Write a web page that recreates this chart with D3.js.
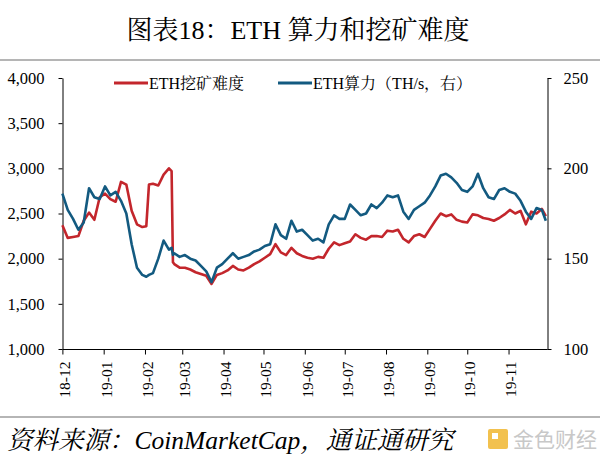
<!DOCTYPE html>
<html>
<head>
<meta charset="UTF-8">
<title>ETH 算力和挖矿难度</title>
<style>
  body{ margin:0; background:#fff; }
  svg{ display:block; }
  .axis path, .axis line{ stroke:#000; stroke-width:1; }
</style>
</head>
<body>
<script src="https://cdn.jsdelivr.net/npm/d3@7/dist/d3.min.js"></script>
<script>
// 日期（约每4天一个点）
var dates = [
  "2018-12-01","2018-12-05","2018-12-09","2018-12-13","2018-12-17","2018-12-21","2018-12-25","2018-12-29",
  "2019-01-02","2019-01-06","2019-01-10","2019-01-14","2019-01-18","2019-01-22","2019-01-26","2019-01-30",
  "2019-02-02","2019-02-04","2019-02-07","2019-02-11","2019-02-15","2019-02-19","2019-02-21","2019-02-22",
  "2019-02-23","2019-02-27","2019-03-03","2019-03-07","2019-03-11","2019-03-15","2019-03-19","2019-03-23",
  "2019-03-27","2019-03-31","2019-04-04","2019-04-08","2019-04-12","2019-04-16","2019-04-20","2019-04-24",
  "2019-04-28","2019-05-02","2019-05-06","2019-05-10","2019-05-14","2019-05-18","2019-05-22","2019-05-26",
  "2019-05-30","2019-06-03","2019-06-07","2019-06-11","2019-06-15","2019-06-19","2019-06-23","2019-06-27",
  "2019-07-01","2019-07-05","2019-07-09","2019-07-13","2019-07-17","2019-07-21","2019-07-25","2019-07-29",
  "2019-08-02","2019-08-06","2019-08-10","2019-08-14","2019-08-18","2019-08-22","2019-08-26","2019-08-30",
  "2019-09-03","2019-09-07","2019-09-11","2019-09-15","2019-09-19","2019-09-23","2019-09-27","2019-10-01",
  "2019-10-05","2019-10-09","2019-10-13","2019-10-17","2019-10-21","2019-10-25","2019-10-29","2019-11-02",
  "2019-11-06","2019-11-10","2019-11-14","2019-11-18","2019-11-22","2019-11-26","2019-11-29"
];

// ETH挖矿难度（左轴）
var difficulty = [
  2370,2230,2240,2250,2420,2510,2430,2680,
  2720,2660,2630,2850,2820,2530,2380,2350,
  2360,2820,2830,2810,2930,3000,2970,1960,
  1940,1900,1900,1880,1850,1830,1810,1720,
  1820,1840,1870,1920,1880,1870,1900,1940,
  1970,2010,2050,2160,2070,2040,2120,2060,
  2030,2010,2000,2020,2010,2110,2180,2150,
  2170,2190,2270,2230,2210,2250,2250,2240,
  2310,2300,2320,2220,2180,2250,2270,2240,
  2330,2420,2500,2470,2490,2430,2410,2400,
  2490,2480,2450,2440,2420,2450,2490,2540,
  2500,2530,2380,2520,2500,2550,2470
];

// ETH算力 TH/s（右轴）
var hashrate = [
  186,177,172,166,170,189,184,183,
  190,185,187,182,175,158,145,141,
  140,141,142,150,160,155,156,152,
  153,151,152,150,149,146,143,137,
  145,147,150,153,150,151,152,154,
  155,157,158,169,163,161,171,165,
  166,163,160,161,159,169,174,172,
  172,180,177,174,175,180,178,181,
  185,184,185,176,172,177,179,181,
  185,190,196,197,195,192,188,187,
  190,197,189,184,183,188,189,187,
  186,182,176,172,178,177,171
];

var months = ["2018-12-01","2019-01-01","2019-02-01","2019-03-01","2019-04-01","2019-05-01",
              "2019-06-01","2019-07-01","2019-08-01","2019-09-01","2019-10-01","2019-11-01"];
var leftTicks = [1000,1500,2000,2500,3000,3500,4000];
var rightTicks = [100,150,200,250];

var seriesNames = ["ETH挖矿难度","ETH算力（TH/s，右）"];
var colors = ["#c3262c","#135a80"];

var serif = "'Liberation Serif','Times New Roman','Noto Serif CJK SC','Noto Sans CJK SC',serif";

var width = 600, height = 462;
var svg = d3.select("body").append("svg")
  .attr("width", width)
  .attr("height", height);

svg.append("rect").attr("width", width).attr("height", height).attr("fill", "#fff");

var parse = d3.timeParse("%Y-%m-%d");

// 标题
svg.append("text")
  .attr("x", 298).attr("y", 39)
  .attr("text-anchor", "middle")
  .style("font-size", "26px")
  .text("图表18：ETH 算力和挖矿难度");

svg.append("line")
  .attr("x1", 0).attr("x2", width).attr("y1", 60).attr("y2", 60)
  .attr("stroke", "#b5b5b5").attr("stroke-width", 2);

// 比例尺
var x = d3.scaleTime()
  .domain([parse("2018-12-01"), parse("2019-12-01")])
  .range([62.4, 548.5]);
var yL = d3.scaleLinear().domain([1000, 4000]).range([349, 78]);
var yR = d3.scaleLinear().domain([100, 250]).range([349, 78]);

// 坐标轴
svg.append("g").attr("class", "axis")
  .attr("transform", "translate(62.5,0)")
  .call(d3.axisLeft(yL).tickValues(leftTicks).tickFormat(d3.format(",")).tickSize(4).tickSizeOuter(0).tickPadding(14))
  .call(function(g){ g.selectAll("text").style("font-size", "16.5px"); });

svg.append("g").attr("class", "axis")
  .attr("transform", "translate(547.5,0)")
  .call(d3.axisRight(yR).tickValues(rightTicks).tickSize(4).tickSizeOuter(0).tickPadding(12))
  .call(function(g){ g.selectAll("text").style("font-size", "16.5px"); });

var xAxis = svg.append("g").attr("class", "axis")
  .attr("transform", "translate(0,349.5)")
  .call(d3.axisBottom(x).tickValues(months.map(parse)).tickFormat(d3.timeFormat("%y-%m")).tickSize(5).tickSizeOuter(0));
xAxis.select(".domain").attr("d", "M62.5,0H547.5");
xAxis.selectAll("text")
  .style("font-size", "15.5px")
  .attr("text-anchor", "end")
  .attr("y", 0).attr("dy", "0.35em")
  .attr("transform", "translate(2,12) rotate(-90)");

svg.selectAll(".axis").attr("font-family", null).attr("font-size", null);

// 折线
var lineL = d3.line().x(function(d, i){ return x(parse(dates[i])); }).y(function(d){ return yL(d); });
var lineR = d3.line().x(function(d, i){ return x(parse(dates[i])); }).y(function(d){ return yR(d); });

svg.append("path").datum(difficulty)
  .attr("d", lineL).attr("fill", "none")
  .attr("stroke", colors[0]).attr("stroke-width", 2.6).attr("stroke-linejoin", "round");

svg.append("path").datum(hashrate)
  .attr("d", lineR).attr("fill", "none")
  .attr("stroke", colors[1]).attr("stroke-width", 2.6).attr("stroke-linejoin", "round");

// 图例
var legend = [{x: 114, i: 0}, {x: 278, i: 1}];
legend.forEach(function(l){
  svg.append("line")
    .attr("x1", l.x).attr("x2", l.x + 34).attr("y1", 83).attr("y2", 83)
    .attr("stroke", colors[l.i]).attr("stroke-width", 3);
  svg.append("text")
    .attr("x", l.x + 35).attr("y", 89)
    .style("font-size", "16px")
    .text(seriesNames[l.i]);
});

// 资料来源
svg.append("line")
  .attr("x1", 0).attr("x2", width).attr("y1", 417).attr("y2", 417)
  .attr("stroke", "#b5b5b5").attr("stroke-width", 2);

svg.append("text")
  .attr("x", 7).attr("y", 449)
  .style("font-size", "25.5px").style("font-style", "italic")
  .text("资料来源：CoinMarketCap，通证通研究");

svg.selectAll("text").style("font-family", serif).style("fill", "#000");

// 水印
svg.append("rect").attr("x", 488).attr("y", 429).attr("width", 20).attr("height", 20).attr("rx", 2).attr("fill", "#f2c14e");
svg.append("rect").attr("x", 492).attr("y", 433).attr("width", 6).attr("height", 6).attr("fill", "#fff");
svg.append("text")
  .attr("x", 513).attr("y", 447)
  .style("font-size", "21px").style("fill", "#c8c8c8")
  .style("font-family", "'Noto Sans CJK SC'")
  .text("金色财经");
</script>
</body>
</html>
